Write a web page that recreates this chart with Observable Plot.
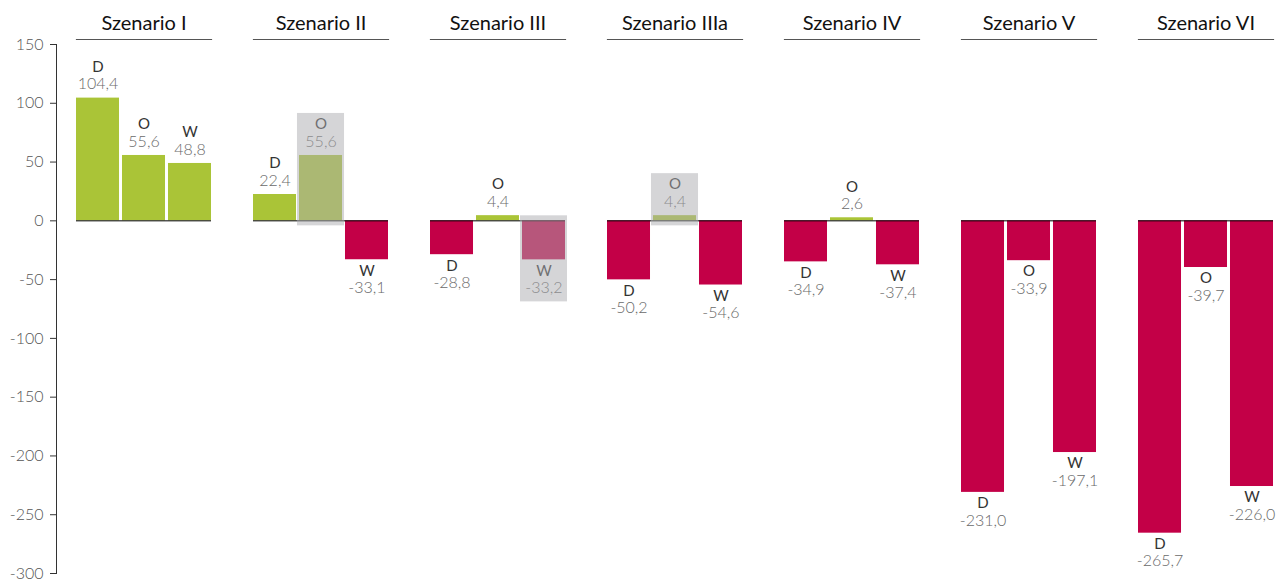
<!DOCTYPE html>
<html>
<head>
<meta charset="utf-8">
<script src="https://cdn.jsdelivr.net/npm/d3@7"></script>
<script src="https://cdn.jsdelivr.net/npm/@observablehq/plot@0.6"></script>
<style>
  html, body { margin: 0; padding: 0; background: #fff; }
  #chart svg { display: block; }
</style>
</head>
<body>
<div id="chart"></div>
<script>
const scenarios = ["Szenario I", "Szenario II", "Szenario III", "Szenario IIIa", "Szenario IV", "Szenario V", "Szenario VI"];
const parts = ["D", "O", "W"];
const valuesD = [104.4, 22.4, -28.8, -50.2, -34.9, -231.0, -265.7];
const valuesO = [55.6, 55.6, 4.4, 4.4, 2.6, -33.9, -39.7];
const valuesW = [48.8, -33.1, -33.2, -54.6, -37.4, -197.1, -226.0];
const highlighted = [["Szenario II", "O"], ["Szenario III", "W"], ["Szenario IIIa", "O"]];
const yTicks = [150, 100, 50, 0, -50, -100, -150, -200, -250, -300];

const green = "#aac437";
const red = "#c30047";

const series = {D: valuesD, O: valuesO, W: valuesW};
const data = [];
scenarios.forEach((s, i) => {
  parts.forEach(p => {
    data.push({
      scenario: s,
      part: p,
      value: series[p][i],
      hl: highlighted.some(([hs, hp]) => hs === s && hp === p)
    });
  });
});
const pos = data.filter(d => d.value >= 0);
const neg = data.filter(d => d.value < 0);
const fmt = v => v.toFixed(1).replace(".", ",");

const chart = Plot.plot({
  width: 1276,
  height: 583,
  marginTop: 39,
  marginBottom: 10,
  marginLeft: 75,
  marginRight: 3,
  style: {fontFamily: "Lato, 'Open Sans', sans-serif", background: "#fff"},
  fx: {domain: scenarios, paddingInner: 0.2386, paddingOuter: 0, axis: null},
  x: {domain: parts, paddingInner: 0.065, paddingOuter: 0, round: false, axis: null},
  y: {domain: [-300, 150], insetTop: 5, axis: null},
  marks: [
    Plot.barY(data, {fx: "scenario", x: "part", y: "value", fill: d => d.value >= 0 ? green : red}),
    Plot.ruleY([0], {stroke: "#000", strokeWidth: 1}),
    Plot.text(pos, {fx: "scenario", x: "part", y: "value", text: "part", dy: -31, fill: "#333", fontSize: 15, fontWeight: 400}),
    Plot.text(pos, {fx: "scenario", x: "part", y: "value", text: d => fmt(d.value), dy: -14, fill: "#6a6a6a", fontSize: 16, fontWeight: 300}),
    Plot.text(neg, {fx: "scenario", x: "part", y: "value", text: "part", dy: 11, fill: "#333", fontSize: 15, fontWeight: 400}),
    Plot.text(neg, {fx: "scenario", x: "part", y: "value", text: d => fmt(d.value), dy: 28, fill: "#6a6a6a", fontSize: 16, fontWeight: 300}),
    Plot.barY(pos.filter(d => d.hl), {fx: "scenario", x: "part", y: "value", fill: "#abacb0", fillOpacity: 0.5, insetTop: -42, insetBottom: -5, insetLeft: -2, insetRight: -2}),
    Plot.barY(neg.filter(d => d.hl), {fx: "scenario", x: "part", y: "value", fill: "#abacb0", fillOpacity: 0.5, insetTop: -5, insetBottom: -42, insetLeft: -2, insetRight: -2}),
    Plot.frame({anchor: "top", stroke: "#555", strokeWidth: 1.2}),
    Plot.axisFx({anchor: "top", tickSize: 0, tickPadding: 10, fontSize: 20, fill: "#111", label: null}),
    Plot.axisY({ticks: yTicks, tickFormat: d => String(d), tickSize: 6, tickPadding: 7, dx: -20, fontSize: 16, fontWeight: 300, fill: "#555", stroke: "#333", label: null}),
    Plot.frame({anchor: "left", facetAnchor: "left", dx: -20, insetTop: 5, stroke: "#333"})
  ]
});
document.getElementById("chart").append(chart);
</script>
</body>
</html>
